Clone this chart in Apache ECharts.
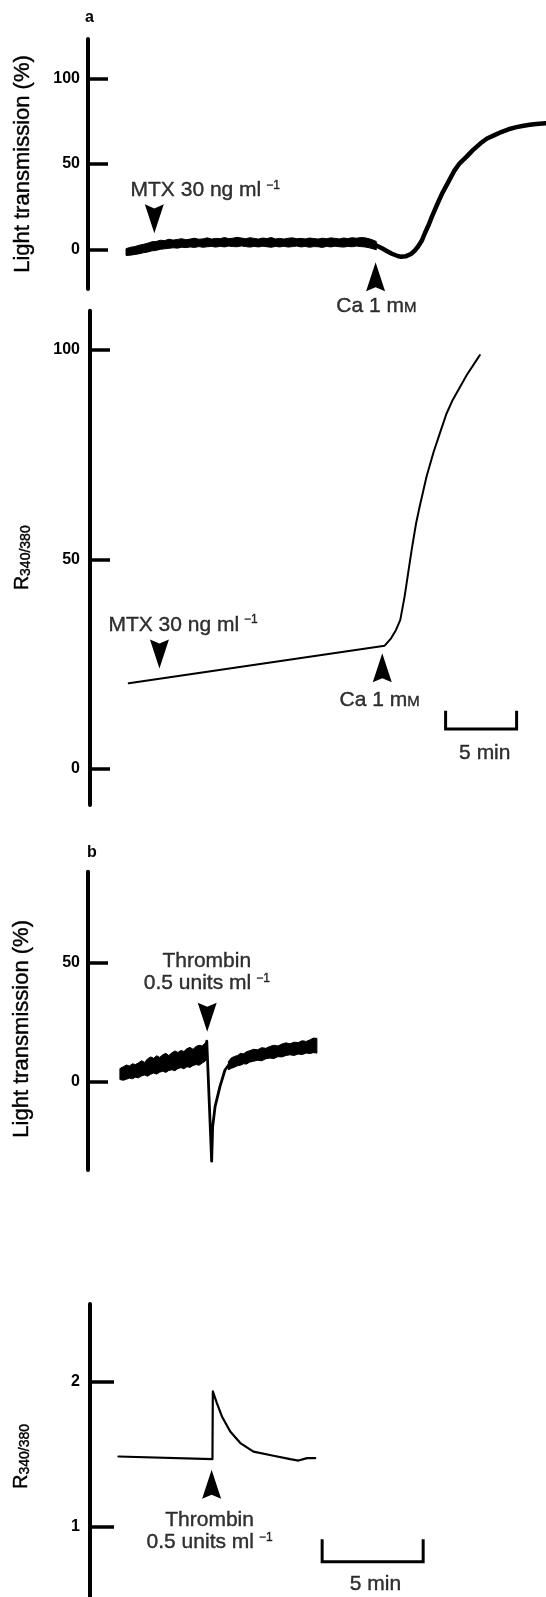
<!DOCTYPE html>
<html><head><meta charset="utf-8">
<script src="https://cdn.jsdelivr.net/npm/echarts@6.0.0/dist/echarts.min.js"></script>
<style>html,body{margin:0;padding:0;background:#fff}#c{width:546px;height:1597px}</style>
</head><body><div id="c"></div>
<script>
// ---------- data (time in min, value) ----------
// Panel a, light transmission (%): noisy baseline after MTX (upper / lower edge of the trace)
const A1_BAND_T  = [2.68,3.0,3.3,3.6,3.9,4.2,4.5,4.8,5.1,5.4,5.7,6.0,6.3,6.6,6.9,7.2,7.5,7.8,8.1,8.4,8.7,9.0,9.3,9.6,9.9,10.2,10.5,10.8,11.1,11.4,11.7,12.0,12.3,12.6,12.9,13.2,13.5,13.8,14.1,14.4,14.7,15.0,15.3,15.6,15.9,16.2,16.5,16.8,17.1,17.4,17.7,18.0,18.3,18.6,18.9,19.2,19.5,19.8,20.1,20.3];
const A1_BAND_UP = [0.4,1.2,1.6,2.4,2.9,3.6,4.4,4.6,5.3,5.1,5.9,5.4,5.8,6.2,5.6,6.0,6.5,5.9,6.1,6.7,6.0,6.4,6.2,6.9,6.3,6.5,7.0,6.6,6.2,6.8,6.4,6.0,6.6,6.3,6.9,6.1,6.4,6.0,6.5,6.7,6.2,6.4,6.1,6.6,6.3,6.0,6.5,6.2,6.7,6.4,6.1,6.6,6.3,6.8,6.5,6.9,6.7,6.2,5.3,4.6];
const A1_BAND_LO = [-3.6,-3.4,-3.0,-2.6,-2.0,-1.6,-0.9,-0.6,0.0,0.3,0.6,0.9,0.7,1.2,1.0,1.4,1.1,1.6,1.2,1.5,1.7,1.3,1.8,1.4,1.9,1.6,1.5,2.0,1.6,1.3,1.7,1.4,1.8,1.5,1.2,1.7,1.4,1.8,1.3,1.6,1.9,1.4,1.7,1.2,1.6,1.5,1.1,1.7,1.4,1.8,1.5,1.3,1.7,1.5,1.9,1.6,1.4,0.9,0.2,-0.3];
// response after Ca
const A1_RESP = [[20.3,2.2],[20.7,0.6],[21.0,-0.8],[21.4,-2.6],[21.8,-3.9],[22.0,-4.3],[22.4,-4.0],[22.74,-2.7],[23.0,-0.8],[23.23,1.5],[23.5,5],[23.72,9.4],[24.0,14.5],[24.21,19],[24.6,26.5],[24.94,32.7],[25.44,40.5],[25.8,46],[26.17,50.3],[26.66,54.2],[27.1,58],[27.64,62],[28.1,64.8],[28.62,66.8],[29.1,68.6],[29.61,70.2],[30.1,71.3],[30.58,72.1],[31.1,72.8],[31.56,73.3],[32.25,73.7]];
const A1_TICKS = [0, 50, 100];
// Panel a, R340/380
const A2_TRACE = [[2.73,20.45],[20.75,29.43],[21.2,31.2],[21.55,33.2],[21.85,35.6],[22.15,41.1],[22.4,46.7],[22.65,52.3],[22.96,58.6],[23.21,62.6],[23.7,69.8],[24.19,75.6],[24.68,80.6],[25.1,84.8],[25.54,88.1],[26.52,94.0],[27.45,98.8]];
const A2_TICKS = [0, 50, 100];
// Panel b, light transmission (%): noisy band before thrombin (upper / lower edge)
const B1_T  = [1.58,1.75,1.9,2.05,2.2,2.35,2.5,2.65,2.8,2.95,3.1,3.25,3.4,3.55,3.7,3.85,4.0,4.15,4.3,4.45,4.6,4.75,4.9,5.05,5.2,5.35,5.5,5.65,5.8,5.88];
const B1_UP = [5.5,6.3,7.0,6.6,7.5,7.2,7.9,8.8,8.1,9.6,10.4,9.8,10.9,10.2,11.3,11.9,11.0,12.1,12.9,12.3,13.1,12.7,13.9,14.4,13.6,14.8,15.3,15.0,16.2,17.0];
const B1_LO = [0.9,0.6,1.0,1.5,1.2,1.9,1.6,2.4,2.8,2.3,3.1,3.6,3.2,4.0,4.4,3.9,4.7,5.0,4.6,5.5,5.9,5.4,6.3,6.0,6.8,7.2,6.9,7.8,8.6,9.4];
// spike after thrombin
const B1_SPIKE = [[5.86,16.0],[5.88,17.0],[6.12,-33.4],[6.17,-19],[6.29,-10.5],[6.53,-2.1],[6.78,4.9],[6.98,7.2]];
// noisy band during recovery (upper / lower edge)
const B1R_T  = [6.95,7.1,7.25,7.4,7.55,7.7,7.85,8.0,8.2,8.4,8.6,8.8,9.0,9.2,9.4,9.6,9.8,10.0,10.2,10.4,10.6,10.8,11.0,11.15,11.33];
const B1R_UP = [8.5,10.0,10.6,11.0,11.9,11.7,12.6,13.0,13.6,13.4,14.3,14.0,14.8,15.3,15.0,15.8,16.3,15.9,16.6,16.4,17.2,16.9,17.6,18.3,18.2];
const B1R_LO = [5.0,5.6,6.1,6.7,6.9,7.5,7.4,8.2,8.6,9.0,8.8,9.6,9.9,9.7,10.5,10.4,11.0,11.3,11.0,11.6,11.4,12.0,11.8,12.2,12.0];
const B1_TICKS = [0, 50];
// Panel b, R340/380
const B2_TRACE = [[1.41,1.485],[6.06,1.467],[6.08,1.935],[6.28,1.855],[6.53,1.762],[6.94,1.658],[7.44,1.578],[8.09,1.519],[9.08,1.490],[9.91,1.467],[10.32,1.457],[10.74,1.474],[11.15,1.474]];
const B2_TICKS = [1, 2];
// scale bars (5 min)
const SCALE_A = [[25.04,13.9],[25.04,9.55],[30.04,9.55],[30.04,13.9]];
const SCALE_B = [[11.49,0.913],[11.49,0.756],[16.49,0.756],[16.49,0.913]];
// arrow tips
const ARROW_A1_MTX = [4.67, 9.4], ARROW_A1_CA = [20.25, -7.6];
const ARROW_A2_MTX = [4.89, 24.0], ARROW_A2_CA = [20.58, 27.6];
const ARROW_B1_TH = [5.9, 21.0], ARROW_B2_TH = [6.02, 1.393];
// annotation anchors
const TXT_A1_MTX = [2.96, 34.5], TXT_A1_CA = [20.31, -33.2];
const TXT_A2_MTX = [1.26, 34.4], TXT_A2_CA = [20.39, 16.4], TXT_A2_SCALE = [27.8, 3.7];
const TXT_B1_TH = [5.88, 45.8], TXT_B2_TH = [5.92, 0.965], TXT_B2_SCALE = [14.13, 0.603];

// ---------- chart ----------
const FONT = '"Liberation Sans", Arial, Helvetica, sans-serif';
const BLACK = '#000';
const TB = {textBorderColor: BLACK, textBorderWidth: 0.4};
const RICH = {
  sup: Object.assign({fontFamily: FONT, fontSize: 12, lineHeight: 16, verticalAlign: 'top', padding: [0,0,0,5], color: BLACK}, TB),
  sc:  Object.assign({fontFamily: FONT, fontSize: 15, lineHeight: 20, verticalAlign: 'middle', padding: [4,0,0,0], color: BLACK}, TB)
};
const DOWN = 'path://M0,0 L9,4 L18,0 L9,28 Z';
const UP = 'path://M9,0 L18,28 L9,24 L0,28 Z';

function yAxisCfg(grid, min, max, ticks, tickLen, margin, name, nameGap, nameStyle) {
  return {
    gridIndex: grid, type: 'value', min: min, max: max, position: 'left',
    axisLine: {show: true, onZero: false, lineStyle: {color: BLACK, width: 4}},
    axisTick: {show: true, inside: true, length: tickLen, lineStyle: {color: BLACK, width: 3.5}, customValues: ticks},
    axisLabel: {show: true, customValues: ticks, margin: margin, fontSize: 16, fontWeight: 'bold', color: BLACK, fontFamily: FONT},
    splitLine: {show: false},
    name: name, nameLocation: 'middle', nameRotate: 90, nameGap: nameGap,
    nameTextStyle: nameStyle
  };
}
const RNAME = '{r|R}{s|340/380}';
const RSTYLE = (pad) => ({color: BLACK, padding: pad, rich: {
  r: Object.assign({fontFamily: FONT, fontSize: 20, lineHeight: 22, color: BLACK}, TB),
  s: Object.assign({fontFamily: FONT, fontSize: 14, lineHeight: 14, verticalAlign: 'bottom', color: BLACK}, TB)
}});
const LSTYLE = (pad) => Object.assign({fontFamily: FONT, fontSize: 22, lineHeight: 22, color: BLACK, padding: pad}, TB);

function lineS(ax, data, width, extra) {
  return Object.assign({type: 'line', xAxisIndex: ax, yAxisIndex: ax, data: data, symbol: 'none', silent: true,
    lineStyle: {color: BLACK, width: width, join: 'round', cap: 'round'}}, extra || {});
}
function arrowS(ax, pt, up) {
  return {type: 'scatter', xAxisIndex: ax, yAxisIndex: ax, data: [pt], silent: true, clip: false,
    symbol: up ? UP : DOWN, symbolSize: [19, 29], symbolOffset: [0, up ? '50%' : '-50%'],
    itemStyle: {color: BLACK, opacity: 1}};
}
function textS(ax, pt, text, align) {
  return {type: 'scatter', xAxisIndex: ax, yAxisIndex: ax, data: [pt], silent: true, clip: false,
    symbol: 'circle', symbolSize: 1, itemStyle: {color: 'rgba(0,0,0,0)'},
    label: Object.assign({show: true, formatter: text, position: align === 'left' ? 'right' : 'inside', distance: 0,
      align: align, verticalAlign: 'middle', fontFamily: FONT, fontSize: 21, lineHeight: 22, color: BLACK, rich: RICH}, TB)};
}
// filled band between a lower and an upper edge, mapped through the axes
function bandS(ax, ts, lo, up) {
  return {type: 'custom', xAxisIndex: ax, yAxisIndex: ax, silent: true,
    data: [[ts[0], lo[0]]],
    encode: {x: 0, y: 1},
    renderItem: function (params, api) {
      const pts = [];
      for (let i = 0; i < ts.length; i++) pts.push(api.coord([ts[i], up[i]]));
      for (let i = ts.length - 1; i >= 0; i--) pts.push(api.coord([ts[i], lo[i]]));
      return {type: 'polygon', shape: {points: pts}, style: {fill: BLACK, stroke: BLACK, lineWidth: 1, lineJoin: 'round'}};
    }};
}

const option = {
  animation: false,
  backgroundColor: '#fff',
  title: [
    {text: 'a', left: 85, top: 10, padding: 0, textStyle: {fontSize: 16, fontWeight: 'bold', fontFamily: FONT, color: BLACK}},
    {text: 'b', left: 87, top: 845, padding: 0, textStyle: {fontSize: 16, fontWeight: 'bold', fontFamily: FONT, color: BLACK}}
  ],
  grid: [
    {left: 88, top: 39, width: 458, height: 250, outerBoundsMode: 'none'},
    {left: 90, top: 310.7, width: 456, height: 494.3, outerBoundsMode: 'none'},
    {left: 88, top: 871.7, width: 458, height: 298.3, outerBoundsMode: 'none'},
    {left: 90, top: 1304, width: 456, height: 293, outerBoundsMode: 'none'}
  ],
  xAxis: [
    {gridIndex: 0, type: 'value', min: 0, max: 32.25, show: false},
    {gridIndex: 1, type: 'value', min: 0, max: 32.11, show: false},
    {gridIndex: 2, type: 'value', min: 0, max: 22.67, show: false},
    {gridIndex: 3, type: 'value', min: 0, max: 22.57, show: false}
  ],
  yAxis: [
    yAxisCfg(0, -23.2, 123, A1_TICKS, 20, 8, 'Light transmission (%)', 54, LSTYLE([0,0,0,0])),
    yAxisCfg(1, -8.6, 109.4, A2_TICKS, 20, 10, RNAME, 57, RSTYLE([0,0,0,0])),
    yAxisCfg(2, -37.1, 88.2, B1_TICKS, 20, 8, 'Light transmission (%)', 55, LSTYLE([0,16,0,0])),
    yAxisCfg(3, 0.513, 2.54, B2_TICKS, 24, 10, RNAME, 57.5, RSTYLE([0,12,0,0]))
  ],
  series: [
    bandS(0, A1_BAND_T, A1_BAND_LO, A1_BAND_UP),
    lineS(0, A1_RESP, 4.5),
    arrowS(0, ARROW_A1_MTX, false),
    arrowS(0, ARROW_A1_CA, true),
    textS(0, TXT_A1_MTX, 'MTX 30 ng ml{sup|−1}', 'left'),
    textS(0, TXT_A1_CA, 'Ca 1 m{sc|M}', 'center'),

    lineS(1, A2_TRACE, 2),
    lineS(1, SCALE_A, 3, {lineStyle: {color: BLACK, width: 3, join: 'miter', cap: 'butt'}}),
    arrowS(1, ARROW_A2_MTX, false),
    arrowS(1, ARROW_A2_CA, true),
    textS(1, TXT_A2_MTX, 'MTX 30 ng ml{sup|−1}', 'left'),
    textS(1, TXT_A2_CA, 'Ca 1 m{sc|M}', 'center'),
    textS(1, TXT_A2_SCALE, '5 min', 'center'),

    bandS(2, B1_T, B1_LO, B1_UP),
    bandS(2, B1R_T, B1R_LO, B1R_UP),
    lineS(2, B1_SPIKE, 2.8),
    arrowS(2, ARROW_B1_TH, false),
    textS(2, TXT_B1_TH, 'Thrombin\n0.5 units ml{sup|−1}', 'center'),

    lineS(3, B2_TRACE, 2.2),
    lineS(3, SCALE_B, 3, {lineStyle: {color: BLACK, width: 3, join: 'miter', cap: 'butt'}}),
    arrowS(3, ARROW_B2_TH, true),
    textS(3, TXT_B2_TH, 'Thrombin\n0.5 units ml{sup|−1}', 'center'),
    textS(3, TXT_B2_SCALE, '5 min', 'center')
  ]
};
const chart = echarts.init(document.getElementById('c'), null, {renderer: 'canvas'});
chart.setOption(option);
</script>
</body></html>
